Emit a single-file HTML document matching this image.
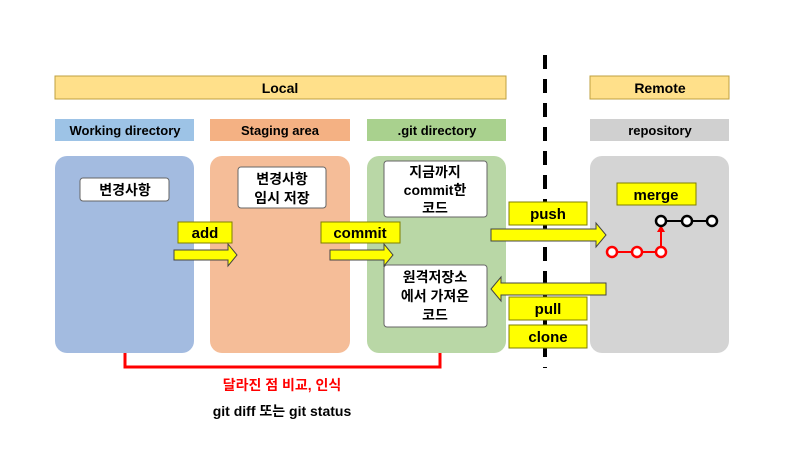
<!DOCTYPE html><html><head><meta charset="utf-8"><style>body{margin:0;background:#fff}svg{display:block}text{font-family:"Liberation Sans","Noto Sans CJK KR",sans-serif;font-weight:bold}</style></head><body>
<svg width="800" height="450" viewBox="0 0 800 450">
<rect x="55" y="76" width="451" height="23" fill="#ffe08a" stroke="#bfa040"/>
<text x="280" y="93" font-size="14" text-anchor="middle">Local</text>
<rect x="590" y="76" width="139" height="23" fill="#ffe08a" stroke="#bfa040"/>
<text x="660" y="93" font-size="14" text-anchor="middle">Remote</text>
<rect x="55" y="119" width="139" height="22" fill="#9dc3e6"/>
<text x="125" y="135" font-size="13" text-anchor="middle">Working directory</text>
<rect x="210" y="119" width="140" height="22" fill="#f4b183"/>
<text x="280" y="135" font-size="13" text-anchor="middle">Staging area</text>
<rect x="367" y="119" width="139" height="22" fill="#a9d18e"/>
<text x="437" y="135" font-size="13" text-anchor="middle">.git directory</text>
<rect x="590" y="119" width="139" height="22" fill="#d0d0d0"/>
<text x="660" y="135" font-size="13" text-anchor="middle">repository</text>
<rect x="55" y="156" width="139" height="197" rx="12" fill="#a3bbe0"/>
<rect x="210" y="156" width="140" height="197" rx="12" fill="#f5bd98"/>
<rect x="367" y="156" width="139" height="197" rx="12" fill="#b9d7a6"/>
<rect x="590" y="156" width="139" height="197" rx="12" fill="#d4d4d4"/>
<line x1="545" y1="55" x2="545" y2="368" stroke="#000" stroke-width="4" stroke-dasharray="14,10"/>
<g stroke="#666" fill="#fff"><rect x="80" y="178" width="89" height="23" rx="3"/><rect x="238" y="167" width="88" height="41" rx="3"/><rect x="384" y="161" width="103" height="56" rx="3"/><rect x="384" y="265" width="103" height="62" rx="3"/></g>
<g font-size="14" text-anchor="middle"><text x="125" y="195">변경사항</text>
<text x="282" y="184">변경사항</text><text x="282" y="203">임시 저장</text>
<text x="435" y="177">지금까지</text><text x="435" y="195">commit한</text><text x="435" y="213">코드</text>
<text x="435" y="282">원격저장소</text><text x="435" y="301">에서 가져온</text><text x="435" y="320">코드</text></g>
<g fill="#ffff00" stroke="#7f7f00"><rect x="178" y="222" width="54" height="21"/><rect x="321" y="222" width="79" height="21"/><rect x="509" y="202" width="78" height="23"/><rect x="509" y="297" width="78" height="23"/><rect x="509" y="325" width="78" height="23"/><rect x="617" y="183" width="79" height="22"/>
<path d="M174 250H228V244L237 255L228 266V260H174Z" stroke="#444"/>
<path d="M330 250H384V244L393 255L384 266V260H330Z" stroke="#444"/>
<path d="M491 229H596V223L606 235L596 247V241H491Z" stroke="#444"/>
<path d="M606 283H501V277L491 289L501 301V295H606Z" stroke="#444"/></g>
<g font-size="15" text-anchor="middle"><text x="205" y="238">add</text><text x="360" y="238">commit</text><text x="548" y="219">push</text><text x="548" y="314">pull</text><text x="548" y="342">clone</text><text x="656" y="200">merge</text></g>
<line x1="661" y1="221" x2="712" y2="221" stroke="#000" stroke-width="2"/>
<line x1="612" y1="252" x2="661" y2="252" stroke="#f00" stroke-width="2"/>
<line x1="661" y1="247" x2="661" y2="231" stroke="#f00" stroke-width="2"/><path d="M657 232L661 225L665 232Z" fill="#f00"/>
<g fill="#fff" stroke-width="2.5"><circle cx="661" cy="221" r="5" stroke="#000"/><circle cx="687" cy="221" r="5" stroke="#000"/><circle cx="712" cy="221" r="5" stroke="#000"/><circle cx="612" cy="252" r="5" stroke="#f00"/><circle cx="637" cy="252" r="5" stroke="#f00"/><circle cx="661" cy="252" r="5" stroke="#f00"/></g>
<path d="M125 353V367H440V353" fill="none" stroke="#f00" stroke-width="3"/>
<text x="282" y="390" font-size="14" fill="#f00" text-anchor="middle">달라진 점 비교, 인식</text>
<text x="282" y="416" font-size="14" text-anchor="middle">git diff 또는 git status</text>
</svg></body></html>
